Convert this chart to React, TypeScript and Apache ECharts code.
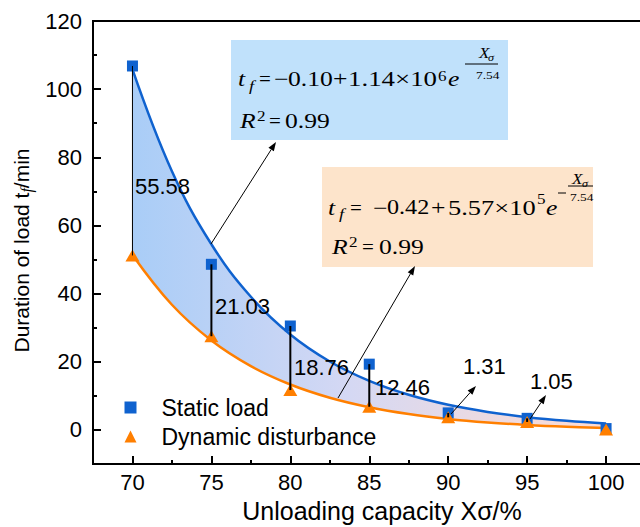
import React, { useEffect, useRef } from 'react';
import * as echarts from 'echarts';

// ---- data ----
const xValues = [70, 75, 80, 85, 90, 95, 100];
const staticLoad = [106.8, 48.6, 30.5, 19.3, 5.0, 3.4, 0.4];
const dynamicDisturbance = [51.2, 27.5, 11.7, 6.8, 3.7, 2.35, 0.1];
const diffLabels = ['55.58', '21.03', '18.76', '12.46', '1.31', '1.05'];

// fitted curves
const fitX = [70, 72.5, 75, 77.5, 80, 82.5, 85, 87.5, 90, 92.5, 95, 97.5, 100];
const fitStatic = [105.83, 75.93, 54.48, 39.07, 28.02, 20.08, 14.39, 10.3, 7.36, 5.26, 3.75, 2.66, 1.88];
const fitDynamic = [51.34, 36.73, 26.24, 18.72, 13.32, 9.44, 6.66, 4.66, 3.23, 2.2, 1.46, 0.93, 0.55];

const yMajorTicks = [0, 20, 40, 60, 80, 100, 120];
const yMinorTicks = [-10, 10, 30, 50, 70, 90, 110];
const xMajorTicks = [70, 75, 80, 85, 90, 95, 100, 105];
const xMinorTicks = [67.5, 72.5, 77.5, 82.5, 87.5, 92.5, 97.5, 102.5];
const xLabelValues = [70, 75, 80, 85, 90, 95, 100];

const BLUE = '#0f62cf';
const ORANGE = '#ff7f00';
const SANS = 'Liberation Sans';
const SERIF = 'Liberation Serif';
const SX = 1.22;

function tok(text: string, x: number, y: number, size: number, italic = false, sx = SX) {
  return {
    type: 'text',
    x,
    y,
    scaleX: sx,
    z: 110,
    style: {
      text,
      fontSize: size,
      fontFamily: SERIF,
      fontStyle: italic ? 'italic' : 'normal',
      fill: '#000',
      align: 'left',
      verticalAlign: 'middle',
    },
  };
}

function hline(x1: number, x2: number, y: number) {
  return {
    type: 'line',
    z: 110,
    shape: { x1, y1: y, x2, y2: y },
    style: { stroke: '#000', lineWidth: 1 },
  };
}

function arrow(x1: number, y1: number, x2: number, y2: number) {
  const ang = Math.atan2(y2 - y1, x2 - x1);
  const len = 9;
  const w = 3.2;
  const bx = x2 - len * Math.cos(ang);
  const by = y2 - len * Math.sin(ang);
  const px = -Math.sin(ang) * w;
  const py = Math.cos(ang) * w;
  return [
    {
      type: 'line',
      z: 120,
      shape: { x1, y1, x2: bx, y2: by },
      style: { stroke: '#000', lineWidth: 1 },
    },
    {
      type: 'polygon',
      z: 120,
      shape: { points: [[x2, y2], [bx + px, by + py], [bx - px, by - py]] },
      style: { fill: '#000' },
    },
  ];
}

function diffText(text: string, x: number, y: number) {
  return {
    type: 'text',
    x,
    y,
    z: 115,
    style: {
      text,
      fontSize: 22,
      fontFamily: SANS,
      fill: '#000',
      align: 'left',
      verticalAlign: 'middle',
    },
  };
}

// smooth bezier control points (pixel space)
function controlPoints(pts: number[][], s: number) {
  const n = pts.length;
  return pts.map((p, i) => {
    if (i === 0 || i === n - 1) return [p, p];
    const a = pts[i - 1];
    const b = pts[i + 1];
    const vx = b[0] - a[0];
    const vy = b[1] - a[1];
    const d0 = Math.hypot(p[0] - a[0], p[1] - a[1]);
    const d1 = Math.hypot(b[0] - p[0], b[1] - p[1]);
    const sum = d0 + d1 || 1;
    return [
      [p[0] - (vx * s * d0) / sum, p[1] - (vy * s * d0) / sum],
      [p[0] + (vx * s * d1) / sum, p[1] + (vy * s * d1) / sum],
    ];
  });
}
const f = (p: number[]) => `${p[0].toFixed(2)} ${p[1].toFixed(2)}`;
function forwardPath(pts: number[][], cps: number[][][]) {
  let d = '';
  for (let i = 0; i < pts.length - 1; i++) {
    d += ` C ${f(cps[i][1])} ${f(cps[i + 1][0])} ${f(pts[i + 1])}`;
  }
  return d;
}
function backwardPath(pts: number[][], cps: number[][][]) {
  let d = '';
  for (let i = pts.length - 1; i > 0; i--) {
    d += ` C ${f(cps[i][0])} ${f(cps[i - 1][1])} ${f(pts[i - 1])}`;
  }
  return d;
}

export default function App() {
  const ref = useRef<HTMLDivElement>(null);

  useEffect(() => {
    if (!ref.current) return;
    const chart = echarts.init(ref.current, null, { renderer: 'svg' });

    const diffPositions = [
      [135, 186],
      [215, 306],
      [294, 367],
      [375, 387],
      [463, 366],
      [530, 381],
    ];

    const graphics: any[] = [
      // formula box 1
      {
        type: 'rect',
        z: 100,
        shape: { x: 231, y: 40, width: 277, height: 100 },
        style: { fill: '#c0e1fb' },
      },
      tok('t', 238, 79, 21, true),
      tok('f', 249, 86, 15, true),
      tok('=', 259, 79, 21, false, 1),
      tok('\u2212', 274, 79, 21),
      tok('0.10', 288, 79, 21),
      tok('+', 333, 79, 21),
      tok('1.14\u00d710', 348, 79, 21, false, 1.28),
      tok('6', 438, 76, 14),
      tok('e', 448, 79, 21, true),
      hline(465, 498, 64),
      tok('X', 479, 53, 14, true),
      tok('\u03c3', 488, 57, 10, true),
      tok('7.54', 476, 75, 11),
      tok('R', 240, 121, 21, true),
      tok('2', 257, 116, 14),
      tok('=', 269, 121, 21, false, 1),
      tok('0.99', 285, 121, 21),
      // formula box 2
      {
        type: 'rect',
        z: 100,
        shape: { x: 322, y: 167, width: 271, height: 100 },
        style: { fill: '#fde4cb' },
      },
      tok('t', 328, 207.5, 21, true),
      tok('f', 339, 214.5, 15, true),
      tok('=', 350, 207.5, 21, false, 1),
      tok('\u2212', 373, 207.5, 21),
      tok('0.42', 387, 207.5, 21, false, 1.15),
      tok('+', 431, 207.5, 21),
      tok('5.57\u00d710', 448, 207.5, 21, false, 1.26),
      tok('5', 537, 199, 14),
      tok('e', 546, 207.5, 21, true),
      hline(558, 566, 193),
      hline(568, 593, 186),
      tok('X', 572, 179, 14, true),
      tok('\u03c3', 582, 183, 10, true),
      tok('7.54', 570, 197.5, 11),
      tok('R', 332, 246.5, 21, true),
      tok('2', 349, 242, 14),
      tok('=', 362, 246.5, 21, false, 1),
      tok('0.99', 379, 246.5, 21),
      ...arrow(211, 244, 276, 142),
      ...arrow(338, 398, 415, 266),
      ...arrow(451, 414, 476, 386),
      ...arrow(530, 419, 546, 395),
      ...diffLabels.map((t, i) => diffText(t, diffPositions[i][0], diffPositions[i][1])),
    ];

    const axisFont = { fontSize: 22, fontFamily: SANS, color: '#000' };

    const areaGradient = new echarts.graphic.LinearGradient(0, 0, 1, 0, [
      { offset: 0, color: '#a9cdf7' },
      { offset: 0.45, color: '#d4d8f4' },
      { offset: 1, color: '#ffdcd2' },
    ]);

    chart.setOption({
      animation: false,
      grid: {
        left: 93,
        right: -45,
        top: 21,
        bottom: 63,
        show: true,
        borderColor: '#000',
        borderWidth: 2,
        backgroundColor: 'transparent',
        containLabel: false,
        outerBoundsMode: 'none',
      },
      legend: {
        orient: 'vertical',
        left: 119.5,
        top: 391,
        itemWidth: 12,
        itemHeight: 12,
        itemGap: 6,
        data: ['Static load', 'Dynamic disturbance'],
        textStyle: {
          fontSize: 23,
          fontFamily: SANS,
          color: '#000',
          lineHeight: 23,
          padding: [0, 0, 0, 20],
        },
      },
      xAxis: [
        {
          type: 'value',
          min: 67.5,
          max: 105,
          position: 'bottom',
          z: 10,
          axisLine: { onZero: false, lineStyle: { color: '#000', width: 2 } },
          axisTick: {
            inside: true,
            length: 8,
            customValues: xMajorTicks,
            lineStyle: { color: '#000', width: 2 },
          },
          axisLabel: { ...axisFont, margin: 7, customValues: xLabelValues },
          splitLine: { show: false },
          name: 'Unloading capacity X\u03c3/%',
          nameLocation: 'middle',
          nameGap: 34,
          nameTextStyle: {
            fontSize: 25,
            fontFamily: SANS,
            color: '#000',
            lineHeight: 25,
            padding: [0, 14, 0, 0],
          },
        },
        {
          type: 'value',
          min: 67.5,
          max: 105,
          position: 'bottom',
          z: 10,
          axisLine: { show: false, onZero: false },
          axisTick: {
            inside: true,
            length: 4,
            customValues: xMinorTicks,
            lineStyle: { color: '#000', width: 2 },
          },
          axisLabel: { show: false },
          splitLine: { show: false },
        },
      ],
      yAxis: [
        {
          type: 'value',
          min: -10,
          max: 120,
          position: 'left',
          z: 10,
          axisLine: { show: true, onZero: false, lineStyle: { color: '#000', width: 2 } },
          axisTick: {
            show: true,
            inside: true,
            length: 8,
            customValues: yMajorTicks,
            lineStyle: { color: '#000', width: 2 },
          },
          axisLabel: { ...axisFont, margin: 11, customValues: yMajorTicks },
          splitLine: { show: false },
          name: 'Duration of load t{f|f}/min',
          nameLocation: 'middle',
          nameGap: 55,
          nameTextStyle: {
            fontSize: 21,
            fontFamily: SANS,
            color: '#000',
            lineHeight: 26,
            padding: [0, 16, 0, 0],
            rich: {
              f: {
                fontSize: 16,
                fontFamily: SERIF,
                fontStyle: 'italic',
                color: '#000',
                verticalAlign: 'bottom',
              },
            },
          },
        },
        {
          type: 'value',
          min: -10,
          max: 120,
          position: 'left',
          z: 10,
          axisLine: { show: false, onZero: false },
          axisTick: {
            show: true,
            inside: true,
            length: 4,
            customValues: yMinorTicks,
            lineStyle: { color: '#000', width: 2 },
          },
          axisLabel: { show: false },
          splitLine: { show: false },
        },
      ],
      graphic: graphics,
      series: [
        {
          name: 'fit',
          type: 'custom',
          z: 2,
          encode: { x: 0, y: [1, 2] },
          data: fitX.map((x, i) => [x, fitStatic[i], fitDynamic[i]]),
          renderItem: (params: any, api: any) => {
            if (params.dataIndex !== 0) return null;
            const sPts = fitX.map((x, i) => api.coord([x, fitStatic[i]]));
            const dPts = fitX.map((x, i) => api.coord([x, fitDynamic[i]]));
            const sC = controlPoints(sPts, 0.4);
            const dC = controlPoints(dPts, 0.4);
            const sD = `M ${f(sPts[0])}` + forwardPath(sPts, sC);
            const dD = `M ${f(dPts[0])}` + forwardPath(dPts, dC);
            const areaD =
              `M ${f(sPts[0])}` +
              forwardPath(sPts, sC) +
              ` L ${f(dPts[dPts.length - 1])}` +
              backwardPath(dPts, dC) +
              ' Z';
            return {
              type: 'group',
              children: [
                {
                  type: 'path',
                  shape: { pathData: areaD },
                  style: { fill: areaGradient, stroke: 'none' },
                },
                {
                  type: 'path',
                  shape: { pathData: sD },
                  style: { fill: 'none', stroke: BLUE, lineWidth: 2.5 },
                },
                {
                  type: 'path',
                  shape: { pathData: dD },
                  style: { fill: 'none', stroke: ORANGE, lineWidth: 2.5 },
                },
              ],
            };
          },
        },
        {
          name: 'Static load',
          type: 'scatter',
          symbol: 'rect',
          symbolSize: 11,
          z: 4,
          itemStyle: { color: BLUE, opacity: 1 },
          data: xValues.map((x, i) => [x, staticLoad[i]]),
        },
        {
          name: 'Dynamic disturbance',
          type: 'scatter',
          symbol: 'triangle',
          symbolSize: [14, 12],
          z: 5,
          itemStyle: { color: ORANGE, opacity: 1 },
          data: xValues.map((x, i) => [x, dynamicDisturbance[i]]),
        },
        {
          name: 'diff',
          type: 'custom',
          z: 6,
          encode: { x: 0, y: [1, 2] },
          data: xValues.slice(0, 6).map((x, i) => [x, staticLoad[i], dynamicDisturbance[i]]),
          renderItem: (params: any, api: any) => {
            const x = api.value(0);
            const p1 = api.coord([x, api.value(1)]);
            const p2 = api.coord([x, api.value(2)]);
            return {
              type: 'line',
              shape: { x1: p1[0], y1: p1[1], x2: p2[0], y2: p2[1] },
              style: { stroke: '#000', lineWidth: params.dataIndex === 0 ? 1 : 2 },
            };
          },
        },
      ],
    });

    return () => chart.dispose();
  }, []);

  return <div ref={ref} style={{ width: 640, height: 527, position: 'absolute', left: 0, top: 0 }} />;
}
